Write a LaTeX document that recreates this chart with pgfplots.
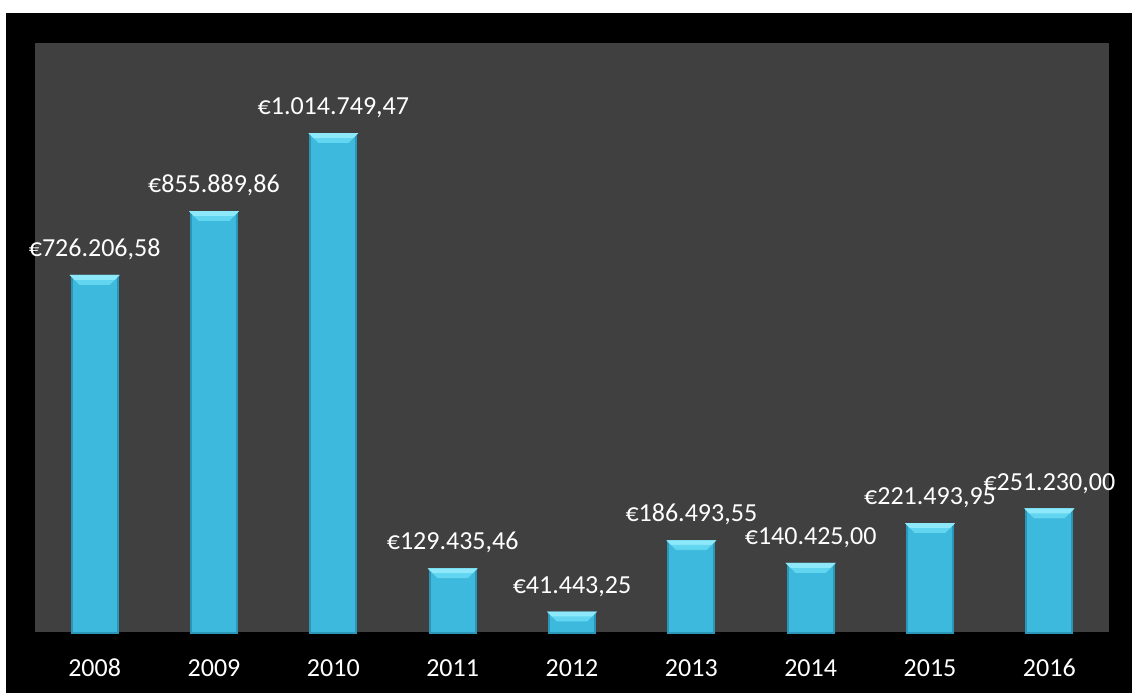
\documentclass[border=0pt]{standalone}
\usepackage{fontspec}
\setmainfont{Carlito}
\usepackage{pgfplots}
\pgfplotsset{compat=1.18}
\definecolor{plotgray}{HTML}{404040}
\definecolor{barmain}{HTML}{3DB9DD}
\definecolor{baredge}{HTML}{2B96B8}
\definecolor{bevtop}{HTML}{8DE8F9}
\definecolor{bevbot}{HTML}{62D6F0}
\definecolor{baseline}{HTML}{8C8C8C}
\newcommand{\bevel}{\tikz[reset cm, x=1pt, y=1pt]{%
  \fill[bevbot] (0,0)--(24,0)--(19.5,-4.5)--(4.5,-4.5)--cycle;
  \fill[bevtop] (0,0)--(24,0)--(22,-2)--(2,-2)--cycle;}}

\begin{document}
\begin{tikzpicture}
\path[use as bounding box] (0,0) rectangle (566pt,346.5pt);
\fill[black] (3pt,0) rectangle (566pt,340pt);
\begin{axis}[
  at={(17.5pt,30pt)}, anchor=south west,
  scale only axis, width=537pt, height=295pt,
  xmin=-0.5, xmax=8.5, ymin=0, ymax=1200000,
  clip=false,
  axis background/.style={fill=plotgray},
  axis x line*=bottom, axis y line=none,
  axis line style={baseline, line width=1pt},
  xtick={0,...,8}, xticklabels={2008,2009,2010,2011,2012,2013,2014,2015,2016},
  ytick=\empty, major tick length=0pt,
  xticklabel style={font=\fontsize{13}{15}\selectfont, white, anchor=base, inner sep=0pt, yshift=-21.5pt},
  ybar, bar width=23pt,
]
% bars with bevelled top
\addplot[bar shift=0pt, fill=barmain, draw=baredge, line width=1pt,
  nodes near coords={\bevel},
  every node near coord/.style={anchor=north, inner sep=0pt, outer sep=0pt, yshift=0.5pt}]
  coordinates {(0,726206.58) (1,855889.86) (2,1014749.47) (3,129435.46) (4,41443.25)
               (5,186493.55) (6,140425.00) (7,221493.95) (8,251230.00)};
% value labels
\addplot[bar shift=0pt, draw=none, fill=none, forget plot,
  point meta=explicit symbolic, nodes near coords,
  every node near coord/.style={anchor=south, inner sep=0pt, text depth=0pt, yshift=9.5pt,
    white, font=\fontsize{13}{15}\selectfont}]
  coordinates {(0,726206.58) [€726.206,58] (1,855889.86) [€855.889,86] (2,1014749.47) [€1.014.749,47]
               (3,129435.46) [€129.435,46] (4,41443.25) [€41.443,25] (5,186493.55) [€186.493,55]
               (6,140425.00) [€140.425,00] (7,221493.95) [€221.493,95] (8,251230.00) [€251.230,00]};
\end{axis}
\end{tikzpicture}
\end{document}
